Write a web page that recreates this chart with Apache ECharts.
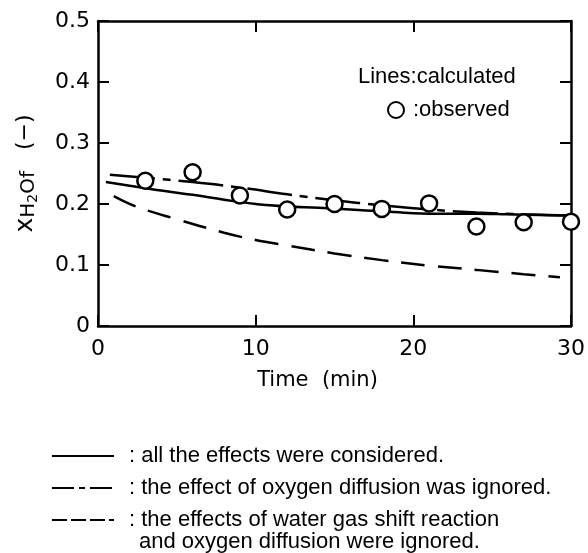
<!DOCTYPE html>
<html>
<head>
<meta charset="utf-8">
<script src="https://cdn.jsdelivr.net/npm/echarts@6/dist/echarts.min.js"></script>
<style>html,body{margin:0;padding:0;background:#fff}#c{width:588px;height:553px}</style>
</head>
<body>
<div id="c"></div>
<script>
// Observed data
var obsTime = [3, 6, 9, 12, 15, 18, 21, 24, 27, 30];
var obsX = [0.238, 0.252, 0.214, 0.191, 0.200, 0.192, 0.201, 0.163, 0.170, 0.171];
// Calculated: all effects considered (solid)
var allTime = [0.5, 2, 4, 6, 8, 10, 12, 14, 16, 18, 20, 22, 24, 26, 28, 30];
var allX = [0.236, 0.230, 0.222, 0.215, 0.207, 0.200, 0.196, 0.194, 0.191, 0.188, 0.185, 0.184, 0.184, 0.183, 0.182, 0.181];
// Calculated: oxygen diffusion ignored (dash-dot)
var noO2Time = [0.75, 3, 6, 9, 12, 15, 18, 21, 24, 27, 30];
var noO2X = [0.248, 0.243, 0.236, 0.227, 0.216, 0.206, 0.198, 0.191, 0.186, 0.183, 0.181];
// Calculated: water gas shift and oxygen diffusion ignored (dashed)
var noWgsTime = [1, 2.5, 5, 8, 10, 12, 15, 18, 21, 24, 27, 29.3];
var noWgsX = [0.213, 0.195, 0.175, 0.153, 0.141, 0.132, 0.119, 0.108, 0.099, 0.092, 0.085, 0.080];
// Labels
var xTicks = [0, 10, 20, 30];
var yTicks = [0, 0.1, 0.2, 0.3, 0.4, 0.5];
var names = [
  'all the effects were considered.',
  'the effect of oxygen diffusion was ignored.',
  'the effects of water gas shift reaction'
];
var name3b = 'and oxygen diffusion were ignored.';

function pairs(xs, ys) { return xs.map(function (x, i) { return [x, ys[i]]; }); }

var numFont = 'DejaVu Sans';
var txtFont = 'Liberation Sans';
var chart = echarts.init(document.getElementById('c'), null, { renderer: 'canvas' });
function axLine() { return { show: true, onZero: false, lineStyle: { color: '#000', width: 2.5 } }; }
var tick = { show: true, inside: true, length: 11, lineStyle: { color: '#000', width: 2 } };

chart.setOption({
  animation: false,
  backgroundColor: '#fff',
  title: {
    text: 'Lines:calculated', left: 353, top: 61,
    textStyle: { fontFamily: txtFont, fontSize: 22, fontWeight: 'normal', color: '#000' }
  },
  grid: { left: 98, right: 12, top: 21, bottom: 227 },
  legend: [
    {
      data: [
        { name: names[0] },
        { name: names[1], lineStyle: { type: [22, 5, 6, 5] } },
        { name: names[2], lineStyle: { type: [15, 4] } }
      ],
      orient: 'vertical', left: 46, top: 440, itemWidth: 62, itemHeight: 14, itemGap: 10,
      itemStyle: { color: 'rgba(0,0,0,0)', borderWidth: 0 },
      formatter: function (n) { return ': ' + n; },
      textStyle: { fontFamily: txtFont, fontSize: 22, color: '#000', padding: [0, 0, 0, 10] },
      selectedMode: false
    },
    {
      data: [':observed'],
      left: 382, top: 94, itemWidth: 16, itemHeight: 16, itemGap: 0,
      textStyle: { fontFamily: txtFont, fontSize: 22, color: '#000', padding: [0, 0, 0, 4] },
      selectedMode: false
    }
  ],
  graphic: [{
    type: 'text', left: 139, top: 531,
    style: { text: name3b, fontFamily: txtFont, fontSize: 22, fill: '#000' }
  }],
  xAxis: [{
    type: 'value', min: 0, max: 30, interval: 10,
    axisLine: axLine(), axisTick: tick, splitLine: { show: false },
    axisLabel: { fontFamily: numFont, fontSize: 22, color: '#000', margin: 12 },
    name: 'Time  (min)', nameLocation: 'middle', nameGap: 44,
    nameTextStyle: { fontFamily: numFont, fontSize: 21, color: '#000', padding: [0, 34, 0, 0] }
  }, {
    type: 'value', position: 'top', min: 0, max: 30, interval: 10,
    axisLine: axLine(), axisTick: tick, axisLabel: { show: false }, splitLine: { show: false }
  }],
  yAxis: [{
    type: 'value', min: 0, max: 0.5, interval: 0.1,
    axisLine: axLine(), axisTick: tick, splitLine: { show: false },
    axisLabel: { fontFamily: numFont, fontSize: 22, color: '#000', margin: 8,
      formatter: function (v) { return String(+v.toFixed(1)); } },
    name: '{a|x}{b|H}{c|2}{b|Of}{d|   (−)}', nameLocation: 'middle', nameGap: 58, nameRotate: 90,
    nameTextStyle: {
      color: '#000', fontFamily: numFont,
      rich: {
        a: { fontFamily: numFont, fontSize: 25, color: '#000' },
        b: { fontFamily: numFont, fontSize: 20, color: '#000', padding: [8, 0, 0, 0] },
        c: { fontFamily: numFont, fontSize: 14, color: '#000', padding: [16, 0, 0, 0] },
        d: { fontFamily: numFont, fontSize: 22, color: '#000' }
      }
    }
  }, {
    type: 'value', position: 'right', min: 0, max: 0.5, interval: 0.1,
    axisLine: axLine(), axisTick: tick, axisLabel: { show: false }, splitLine: { show: false }
  }],
  series: [
    {
      name: names[0], type: 'line', data: pairs(allTime, allX), smooth: 0.4,
      symbol: 'none', lineStyle: { color: '#000', width: 2.5, type: 'solid' }, itemStyle: { color: '#000' }
    },
    {
      name: names[1], type: 'line', data: pairs(noO2Time, noO2X), smooth: 0.4,
      symbol: 'none', lineStyle: { color: '#000', width: 2.5, type: [45, 8, 8, 8] }, itemStyle: { color: '#000' }
    },
    {
      name: names[2], type: 'line', data: pairs(noWgsTime, noWgsX), smooth: 0.4,
      symbol: 'none', lineStyle: { color: '#000', width: 2.5, type: [24, 13] }, itemStyle: { color: '#000' }
    },
    {
      name: ':observed', type: 'scatter', data: pairs(obsTime, obsX), symbol: 'circle', symbolSize: 16,
      itemStyle: { color: '#fff', borderColor: '#000', borderWidth: 2.5, opacity: 1 }, z: 5
    }
  ]
});
</script>
</body>
</html>
